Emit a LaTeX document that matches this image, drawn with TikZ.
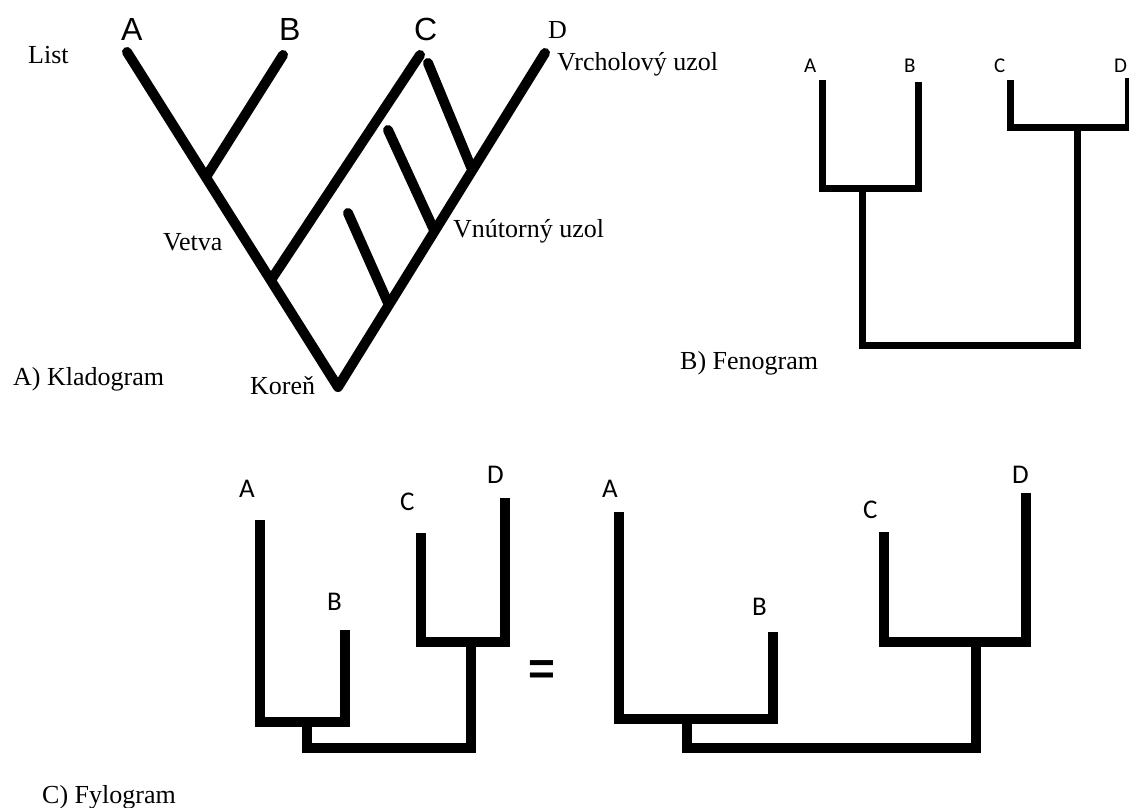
\documentclass[tikz,border=0pt]{standalone}
\usepackage{fontspec}
\setmainfont{Liberation Serif}
\newfontfamily\bigsans{Liberation Sans}
\newfontfamily\smallsans{Carlito}
\begin{document}
\begin{tikzpicture}[x=1pt,y=-1pt,
  serif/.style={anchor=base west,inner sep=0pt,font=\fontsize{26}{30}\selectfont},
  bigleaf/.style={anchor=base west,inner sep=0pt,font=\bigsans\fontsize{32}{36}\selectfont},
  fenleaf/.style={anchor=base west,inner sep=0pt,font=\smallsans\fontsize{21}{25}\selectfont},
  fylleaf/.style={anchor=base west,inner sep=0pt,font=\smallsans\fontsize{27}{31}\selectfont},
  clado/.style={line width=10pt,line cap=round,line join=round},
  feno/.style={line width=7pt,line cap=butt,line join=miter},
  fylo/.style={line width=9.5pt,line cap=butt,line join=miter}]
\useasboundingbox[fill=white] (0,0) rectangle (1129,807);

% ---------- A) cladogram ----------
\coordinate (kA) at (127,52);
\coordinate (kB) at (283,55);
\coordinate (kC) at (420,55);
\coordinate (kD) at (545,53);
\coordinate (kAB) at (206,177);
\coordinate (kABC) at (271,280);
\coordinate (kroot) at (338,387);
\coordinate (kc1) at (428,63);
\coordinate (kn1) at (471,167);
\coordinate (kc2) at (388,130);
\coordinate (kn2) at (434,230);
\coordinate (kc3) at (348,213);
\coordinate (kn3) at (388,303);
\draw[clado] (kA) -- (kroot) -- (kD);
\draw[clado] (kB) -- (kAB);
\draw[clado] (kC) -- (kABC);
\draw[clado] (kc1) -- (kn1);
\draw[clado] (kc2) -- (kn2);
\draw[clado] (kc3) -- (kn3);

\node[bigleaf] (tA) at (121,40) {A};
\node[bigleaf] (tB) at (279,40) {B};
\node[bigleaf] (tC) at (414,40) {C};
\node[serif] (tD) at (548,38) {D};
\node[serif] (tList) at (28,63) {List};
\node[serif] (tVrch) at (557,70) {Vrcholový uzol};
\node[serif] (tVnut) at (453,237) {Vnútorný uzol};
\node[serif] (tVetva) at (163,250) {Vetva};
\node[serif] (tKoren) at (250,394) {Koreň};
\node[serif] (tKlad) at (13,385) {A) Kladogram};

% ---------- B) phenogram ----------
\coordinate (fA) at (822,80);
\coordinate (fB) at (918,82);
\coordinate (fC) at (1010,80);
\coordinate (fD) at (1128,78);
\coordinate (fAB1) at (822,188);
\coordinate (fAB2) at (918,188);
\coordinate (fCD1) at (1010,127);
\coordinate (fCD2) at (1128,127);
\coordinate (fs1) at (862,188);
\coordinate (fs1b) at (862,345);
\coordinate (fs2) at (1077,127);
\coordinate (fs2b) at (1077,345);
\draw[feno] (fA) -- (fAB1) -- (fAB2) -- (fB);
\draw[feno] (fC) -- (fCD1) -- (fCD2) -- (fD);
\draw[feno] (fs1) -- (fs1b) -- (fs2b) -- (fs2);

\node[fenleaf] (gA) at (804,72) {A};
\node[fenleaf] (gB) at (904,72) {B};
\node[fenleaf] (gC) at (994,72) {C};
\node[fenleaf] (gD) at (1114,72) {D};
\node[serif] (tFeno) at (680,369) {B) Fenogram};

% ---------- C) phylogram, left ----------
\coordinate (lA) at (260,520);
\coordinate (lB) at (345,630);
\coordinate (lC) at (421,533);
\coordinate (lD) at (505,498);
\coordinate (lAB1) at (260,722);
\coordinate (lAB2) at (345,722);
\coordinate (lCD1) at (421,642);
\coordinate (lCD2) at (505,642);
\coordinate (ls1) at (307,722);
\coordinate (ls1b) at (307,748);
\coordinate (ls2) at (471,642);
\coordinate (ls2b) at (471,748);
\draw[fylo] (lA) -- (lAB1) -- (lAB2) -- (lB);
\draw[fylo] (lC) -- (lCD1) -- (lCD2) -- (lD);
\draw[fylo] (ls1) -- (ls1b) -- (ls2b) -- (ls2);

\node[fylleaf] (hA) at (239,497) {A};
\node[fylleaf] (hB) at (327,610) {B};
\node[fylleaf] (hC) at (400,510) {C};
\node[fylleaf] (hD) at (487,483) {D};

\node[anchor=center,inner sep=0pt,font=\bigsans\bfseries\fontsize{46}{50}\selectfont] (eq) at (542,673) {=};

% ---------- C) phylogram, right ----------
\coordinate (rA) at (619,512);
\coordinate (rB) at (773,632);
\coordinate (rC) at (884,532);
\coordinate (rD) at (1026,493);
\coordinate (rAB1) at (619,719);
\coordinate (rAB2) at (773,719);
\coordinate (rCD1) at (884,642);
\coordinate (rCD2) at (1026,642);
\coordinate (rs1) at (687,719);
\coordinate (rs1b) at (687,748);
\coordinate (rs2) at (976,642);
\coordinate (rs2b) at (976,748);
\draw[fylo] (rA) -- (rAB1) -- (rAB2) -- (rB);
\draw[fylo] (rC) -- (rCD1) -- (rCD2) -- (rD);
\draw[fylo] (rs1) -- (rs1b) -- (rs2b) -- (rs2);

\node[fylleaf] (iA) at (602,497) {A};
\node[fylleaf] (iB) at (752,615) {B};
\node[fylleaf] (iC) at (863,518) {C};
\node[fylleaf] (iD) at (1012,483) {D};

\node[serif] (tFylo) at (42,803) {C) Fylogram};
\end{tikzpicture}
\end{document}
